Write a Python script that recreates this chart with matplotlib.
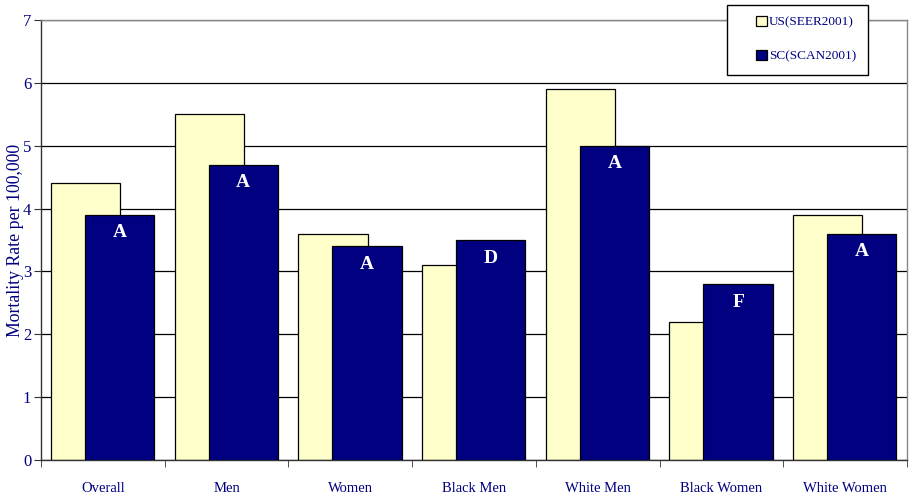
import matplotlib
matplotlib.use("Agg")
import matplotlib.pyplot as plt
import numpy as np
from matplotlib.patches import Rectangle

categories = ["Overall", "Men", "Women", "Black Men", "White Men", "Black Women", "White Women"]
us_seer = [4.4, 5.5, 3.6, 3.1, 5.9, 2.2, 3.9]
sc_scan = [3.9, 4.7, 3.4, 3.5, 5.0, 2.8, 3.6]
grades = ["A", "A", "A", "D", "A", "F", "A"]
series_names = ["US(SEER2001)", "SC(SCAN2001)"]

navy = "#000080"
plt.rcParams["font.family"] = ["Liberation Serif", "DejaVu Serif"]

fig = plt.figure(figsize=(9.13, 4.96), dpi=100)
ax = fig.add_axes([41/913, 1-460/496, 866/913, 440/496])

x = np.arange(len(categories))
w = 0.56
ax.bar(x - 0.14, us_seer, width=w, color="#FFFFCC", edgecolor="black", linewidth=0.9, zorder=2, label=series_names[0])
bars = ax.bar(x + 0.135, sc_scan, width=w, color=navy, edgecolor="black", linewidth=0.9, zorder=3, label=series_names[1])

for b, g in zip(bars, grades):
    ax.annotate(g, (b.get_x() + b.get_width()/2, b.get_height()), xytext=(0, -13),
                textcoords="offset points", ha="center", va="center",
                color="white", fontsize=14, fontweight="bold", zorder=4)

ax.set_xlim(-0.5, len(categories) - 0.5)
ax.set_ylim(0, 7)
ax.set_yticks(range(0, 8))
ax.yaxis.grid(True, color="black", linewidth=0.9, zorder=0)
ax.set_axisbelow(True)

ax.set_xticks(x)
ax.set_xticklabels(categories, fontsize=10.5, color=navy)
ax.set_xticks(np.arange(-0.5, len(categories)), minor=True)
ax.tick_params(axis="x", which="major", length=0, pad=16)
ax.tick_params(axis="x", which="minor", length=5, direction="out", color="#333333")
ax.tick_params(axis="y", length=5, direction="out", labelsize=12, labelcolor=navy, color="#333333", pad=2)
ax.set_ylabel("Mortality Rate per 100,000", fontsize=12.8, color=navy, va="center")
ax.yaxis.set_label_coords(-0.030, 0.5)

for s in ["left", "bottom"]:
    ax.spines[s].set_color("#333333")
    ax.spines[s].set_linewidth(1.0)
for s in ["top", "right"]:
    ax.spines[s].set_color("#888888")
    ax.spines[s].set_linewidth(1.0)

# legend box
fig.patches.append(Rectangle((727/913, 1-75/496), 141/913, 70/496, transform=fig.transFigure,
                             facecolor="white", edgecolor="black", linewidth=1.0, zorder=5))
leg = fig.legend(loc="center", bbox_to_anchor=(806/913, 1-39/496), frameon=False,
                 fontsize=9.5, labelcolor=navy, handlelength=0.8, handleheight=0.8,
                 handletextpad=0.15, labelspacing=1.6)
leg.set_zorder(6)

fig.savefig("out.png", dpi=100)
